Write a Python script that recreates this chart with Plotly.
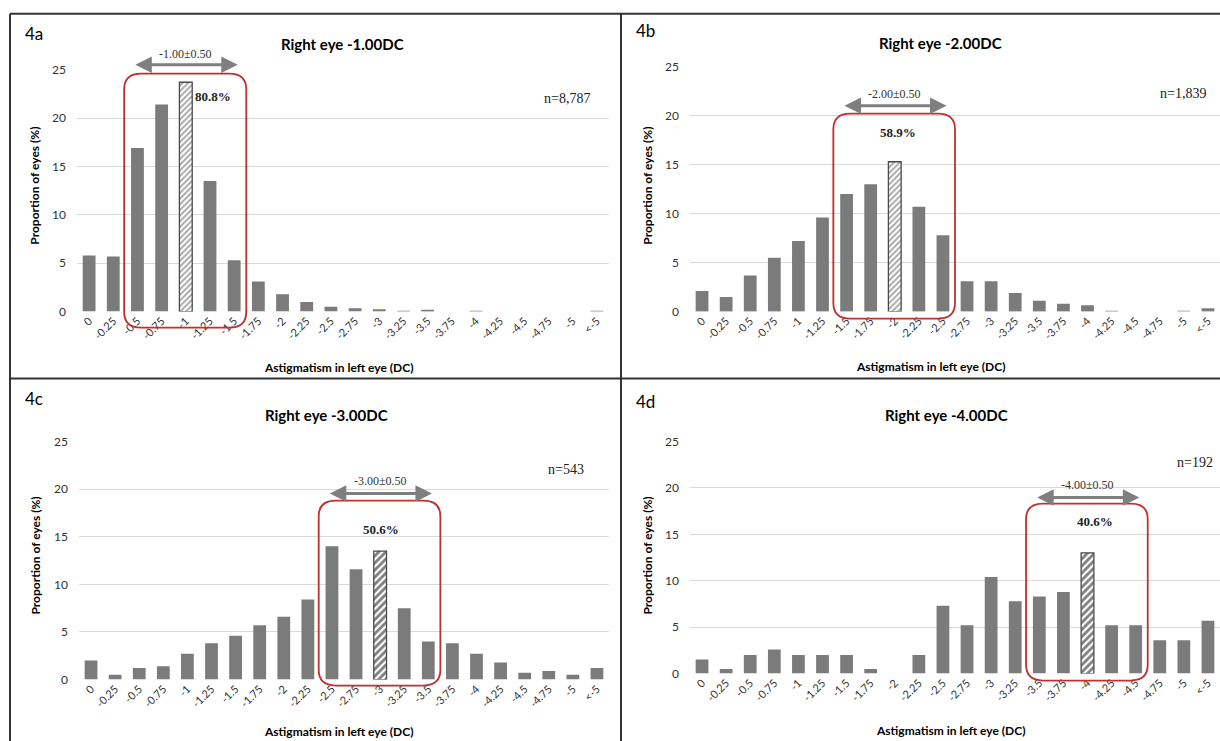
import plotly.graph_objects as go

categories = ["0", "-0.25", "-0.5", "-0.75", "-1", "-1.25", "-1.5", "-1.75", "-2", "-2.25",
              "-2.5", "-2.75", "-3", "-3.25", "-3.5", "-3.75", "-4", "-4.25", "-4.5", "-4.75",
              "-5", "<-5"]

vals_a = [5.8, 5.7, 16.9, 21.4, 23.7, 13.5, 5.3, 3.1, 1.8, 1.0, 0.5, 0.35, 0.25, 0.08, 0.18,
          0.0, 0.08, 0.0, 0.0, 0.0, 0.0, 0.08]
vals_b = [2.1, 1.5, 3.7, 5.5, 7.2, 9.6, 12.0, 13.0, 15.3, 10.7, 7.8, 3.1, 3.1, 1.9, 1.1,
          0.8, 0.65, 0.08, 0.0, 0.0, 0.08, 0.35]
vals_c = [2.0, 0.5, 1.2, 1.4, 2.7, 3.8, 4.6, 5.7, 6.6, 8.4, 14.0, 11.6, 13.5, 7.5, 4.0,
          3.8, 2.7, 1.8, 0.7, 0.9, 0.5, 1.2]
vals_d = [1.5, 0.5, 2.0, 2.6, 2.0, 2.0, 2.0, 0.5, 0.0, 2.0, 7.3, 5.2, 10.4, 7.8, 8.3,
          8.8, 13.0, 5.2, 5.2, 3.6, 3.6, 5.7]

letters = ["4a", "4b", "4c", "4d"]
titles = ["Right eye -1.00DC", "Right eye -2.00DC", "Right eye -3.00DC", "Right eye -4.00DC"]
n_labels = ["n=8,787", "n=1,839", "n=543", "n=192"]
range_labels = ["-1.00\u00b10.50", "-2.00\u00b10.50", "-3.00\u00b10.50", "-4.00\u00b10.50"]
pct_labels = ["80.8%", "58.9%", "50.6%", "40.6%"]
highlight_idx = [4, 8, 12, 16]

W, H = 1220, 741
def px(x):
    return x / W
def py(y):
    yd = (y - 7.3) / 0.98
    return 1 - yd / H

# layout geometry (pixels) per panel
panels = [
    dict(vals=vals_a, x0=77, x1=609, ytop=69, ybot=311, hatch=("#404040", 4, 0.45),
         title=(342, 43), letter=(34, 33), n=(567, 98), rl=53, arrow=64, pct=(213, 96),
         box=(73, 327), ytitle=(35, 185), xtitle=(338, 367)),
    dict(vals=vals_b, x0=690, x1=1220, ytop=66, ybot=311, hatch=("#404040", 4, 0.45),
         title=(940, 42), letter=(645, 30), n=(1183, 93), rl=93, arrow=105, pct=(898, 132),
         box=(113, 318), ytitle=(648, 185), xtitle=(931, 366)),
    dict(vals=vals_c, x0=79, x1=609, ytop=441, ybot=679, hatch=("#000000", 5, 0.55),
         title=(326, 414), letter=(34, 398), n=(566, 469), rl=480, arrow=493, pct=(381, 529),
         box=(500, 685), ytitle=(36, 555), xtitle=(338, 731)),
    dict(vals=vals_d, x0=690, x1=1220, ytop=441, ybot=673, hatch=("#000000", 5, 0.55),
         title=(946, 414), letter=(645, 401), n=(1195, 462), rl=484, arrow=497, pct=(1095, 521),
         box=(503, 680), ytitle=(648, 555), xtitle=(950, 730)),
]

BAR = "#7b7b7b"
RED = "#c0302e"
GRAY = "#7f7f7f"
GRID = "#d9d9d9"
SANS = "Lato, 'Open Sans', sans-serif"
SERIF = "'Liberation Serif', 'DejaVu Serif', serif"

fig = go.Figure()
annotations = []
shapes = []
layout = {}
xs = list(range(len(categories)))


def label(text, x, y, font, xref="paper", **kw):
    d = dict(text=text, x=x, y=y, xref=xref, yref="paper", showarrow=False,
             xanchor="center", yanchor="middle", font=font)
    d.update(kw)
    return d


for k, p in enumerate(panels):
    sfx = "" if k == 0 else str(k + 1)
    xa, ya = "x" + sfx, "y" + sfx
    hi = highlight_idx[k]
    vals = p["vals"]
    main_y = [v if i != hi else None for i, v in enumerate(vals)]
    hat_y = [v if i == hi else None for i, v in enumerate(vals)]
    hc, hs, hsol = p["hatch"]
    fig.add_trace(go.Bar(x=xs, y=main_y, xaxis=xa, yaxis=ya, marker=dict(color=BAR, line=dict(width=0)),
                         width=0.53, showlegend=False, hoverinfo="skip"))
    fig.add_trace(go.Bar(x=xs, y=hat_y, xaxis=xa, yaxis=ya, width=0.53, showlegend=False,
                         marker=dict(color="white", line=dict(color="#4a4a4a", width=1.3),
                                     pattern=dict(shape="/", fgcolor=hc, bgcolor="white",
                                                  size=hs, solidity=hsol)),
                         hoverinfo="skip"))
    layout["xaxis" + sfx] = dict(domain=[px(p["x0"]), px(p["x1"])], anchor=ya,
                                 range=[-0.5, len(categories) - 0.5], tickvals=xs, ticktext=categories,
                                 tickangle=-45, showgrid=False, zeroline=False, showline=False,
                                 ticks="", tickfont=dict(family=SANS, size=11, color="#333333"))
    layout["yaxis" + sfx] = dict(domain=[py(p["ybot"]), py(p["ytop"])], anchor=xa, range=[0, 25],
                                 tickvals=[0, 5, 10, 15, 20, 25], showgrid=True, gridcolor=GRID,
                                 gridwidth=1.2, zeroline=False, showline=False, ticks="",
                                 ticklabelstandoff=10,
                                 tickfont=dict(family=SANS, size=12, color="#333333"))
    annotations += [
        label("<b>%s</b>" % titles[k], px(p["title"][0]), py(p["title"][1]),
              dict(family=SANS, size=15, color="black")),
        label(letters[k], px(p["letter"][0]), py(p["letter"][1]),
              dict(family=SANS, size=17, color="black")),
        label(n_labels[k], px(p["n"][0]), py(p["n"][1]),
              dict(family=SERIF, size=14, color="#222222")),
        label(range_labels[k], hi, py(p["rl"]),
              dict(family=SERIF, size=12, color="#333333"), xref=xa),
        label("<b>%s</b>" % pct_labels[k], px(p["pct"][0]), py(p["pct"][1]),
              dict(family=SERIF, size=13, color="#222222")),
        label("<b>Proportion of eyes (%)</b>", px(p["ytitle"][0]), py(p["ytitle"][1]),
              dict(family=SANS, size=12, color="black"), textangle=-90),
        label("<b>Astigmatism in left eye (DC)</b>", px(p["xtitle"][0]), py(p["xtitle"][1]),
              dict(family=SANS, size=12, color="black")),
        # double-headed range arrow
        dict(text="", x=hi + 2.15, y=py(p["arrow"]), ax=hi - 2.15, ay=0,
             xref=xa, yref="paper", axref=xa, ayref="pixel", showarrow=True,
             arrowside="end+start", arrowhead=2, arrowsize=1.1, arrowwidth=3, arrowcolor=GRAY,
             standoff=0, startstandoff=0),
    ]
    # red rounded box around the +/-0.50 range
    bx0, bx1 = hi - 2.55, hi + 2.5
    yt, yb = py(p["box"][0]), py(p["box"][1])
    rx, ry = 0.7, 16 / H
    path = (f"M {bx0 + rx},{yt} L {bx1 - rx},{yt} Q {bx1},{yt} {bx1},{yt - ry} "
            f"L {bx1},{yb + ry} Q {bx1},{yb} {bx1 - rx},{yb} L {bx0 + rx},{yb} "
            f"Q {bx0},{yb} {bx0},{yb + ry} L {bx0},{yt - ry} Q {bx0},{yt} {bx0 + rx},{yt} Z")
    shapes.append(dict(type="path", path=path, xref=xa, yref="paper",
                       line=dict(color=RED, width=1.8), fillcolor="rgba(0,0,0,0)", layer="above"))

# panel borders
BORDER = dict(color="#333333", width=2)
for (x0, y0, x1, y1) in [(10, 13, 1220, 13), (10, 13, 10, 745), (621, 13, 621, 745), (10, 378, 1220, 378)]:
    shapes.append(dict(type="line", xref="paper", yref="paper", x0=px(x0), y0=py(y0), x1=px(x1), y1=py(y1),
                       line=BORDER))

fig.update_layout(width=W, height=H, margin=dict(l=0, r=0, t=0, b=0), plot_bgcolor="white",
                  paper_bgcolor="white", barmode="overlay", annotations=annotations, shapes=shapes,
                  **layout)
fig.write_html("out.html", config={"displayModeBar": False},
               post_script="document.body.style.margin='0';document.body.style.overflow='hidden';"
                           "document.documentElement.style.overflow='hidden';")
